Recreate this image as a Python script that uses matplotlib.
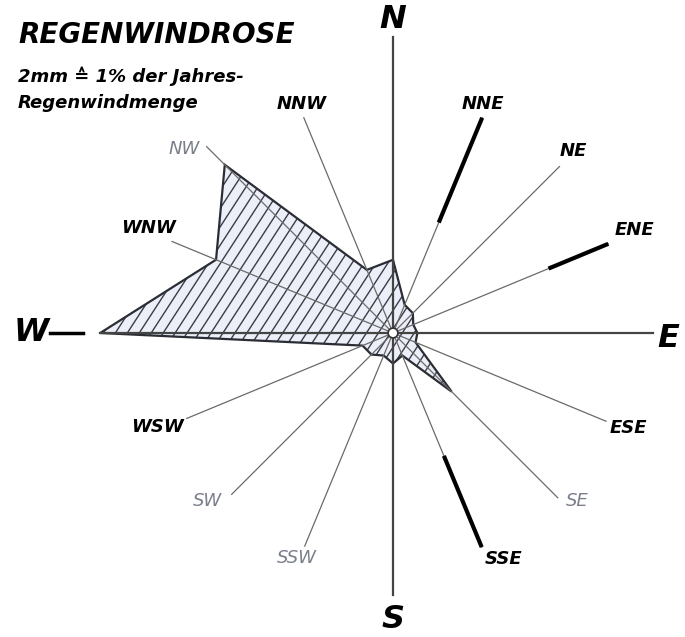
import numpy as np
import matplotlib
matplotlib.use("Agg")
import matplotlib.pyplot as plt
from matplotlib.patches import Polygon, Circle

# 16 compass directions, clockwise from north
directions = ['N', 'NNE', 'NE', 'ENE', 'E', 'ESE', 'SE', 'SSE',
              'S', 'SSW', 'SW', 'WSW', 'W', 'WNW', 'NW', 'NNW']
# share of the yearly rain-wind amount per direction (%)
rain_share = [6.0, 2.5, 2.3, 1.8, 2.0, 2.0, 6.8, 2.0,
              2.5, 2.0, 2.5, 2.7, 24.0, 15.7, 19.5, 5.6]
# thick marks on a few rays: (direction, start, end) in %
thick_marks = [('NNE', 9.8, 19.1), ('ENE', 13.8, 19.1), ('SSE', 10.9, 19.0)]

# layout (not data)
W_PX, H_PX = 685, 637
CX, CY = 393, 333          # rose centre in pixels
S = 12.2                   # pixels per 1 %
ray_len = [24.3, 19.1, 19.3, 19.1, 21.3, 18.9, 19.1, 19.0,
           21.5, 18.9, 18.7, 18.3, 24.0, 19.6, 21.6, 19.1]
label_px = {'N': (393, 20), 'NNE': (483, 104), 'NE': (573, 151),
            'ENE': (634, 230), 'E': (668, 339), 'ESE': (628, 428),
            'SE': (577, 501), 'SSE': (504, 559), 'S': (393, 619),
            'SSW': (297, 558), 'SW': (207, 501), 'WSW': (157, 427),
            'W': (31, 333), 'WNW': (149, 228), 'NW': (184, 149),
            'NNW': (302, 104)}
big = {'N', 'E', 'S', 'W'}
faded = {'SE', 'SW', 'SSW', 'NW'}


def px(x, y):
    return (x - CX) / S, (CY - y) / S


ang = np.deg2rad(np.arange(16) * 22.5)
ux, uy = np.sin(ang), np.cos(ang)

fig = plt.figure(figsize=(W_PX / 100, H_PX / 100), dpi=100)
ax = fig.add_axes([0, 0, 1, 1])
ax.set_xlim(-CX / S, (W_PX - CX) / S)
ax.set_ylim(-(H_PX - CY) / S, CY / S)
ax.axis('off')

r = np.array(rain_share)
pts = np.column_stack([r * ux, r * uy])
ax.add_patch(Polygon(pts, closed=True, facecolor='#eceff7', edgecolor='none', zorder=1))
clip = Polygon(pts, closed=True, transform=ax.transData, facecolor='none', edgecolor='none')
ax.add_patch(clip)

# hatching, steep diagonal lines clipped to the rose
a = np.deg2rad(57)
for c in np.arange(-60, 40, 0.98):
    ln, = ax.plot([c - 40 * np.cos(a), c + 40 * np.cos(a)],
                  [-40 * np.sin(a), 40 * np.sin(a)],
                  color='#3a3d48', lw=1.0, zorder=2)
    ln.set_clip_path(clip)

ax.add_patch(Polygon(pts, closed=True, facecolor='none', edgecolor='#2b2d35',
                     lw=1.6, zorder=3))

# rays
for i, d in enumerate(directions):
    cardinal = d in big
    ax.plot([0, ray_len[i] * ux[i]], [0, ray_len[i] * uy[i]],
            color='#444444' if cardinal else '#6a6a6a',
            lw=1.6 if cardinal else 0.9, zorder=4)

for d, r0, r1 in thick_marks:
    i = directions.index(d)
    ax.plot([r0 * ux[i], r1 * ux[i]], [r0 * uy[i], r1 * uy[i]],
            color='black', lw=3, solid_capstyle='butt', zorder=5)

# dash after the W
ax.plot([-(CX - 50) / S, -(CX - 83) / S], [0, 0], color='black', lw=2.5, zorder=5)

ax.add_patch(Circle((0, 0), 0.4, facecolor='white', edgecolor='#333333', lw=1.2, zorder=6))

for d in directions:
    x, y = px(*label_px[d])
    if d in big:
        ax.text(x, y, d, fontsize=23, style='italic', fontweight='bold',
                ha='center', va='center', color='black', zorder=7)
    elif d in faded:
        ax.text(x, y, d, fontsize=13, style='italic', ha='center', va='center',
                color='#7a7f8a', zorder=7)
    else:
        ax.text(x, y, d, fontsize=13, style='italic', fontweight='bold',
                ha='center', va='center', color='black', zorder=7)

fig.text(18 / W_PX, 1 - 35 / H_PX, 'REGENWINDROSE', fontsize=20, style='italic',
         fontweight='bold', ha='left', va='center')
fig.text(18 / W_PX, 1 - 76 / H_PX, '2mm \u2259 1% der Jahres-', fontsize=13,
         style='italic', fontweight='bold', ha='left', va='center')
fig.text(18 / W_PX, 1 - 103 / H_PX, 'Regenwindmenge', fontsize=13,
         style='italic', fontweight='bold', ha='left', va='center')

fig.savefig('out.png', dpi=100, facecolor='white')
